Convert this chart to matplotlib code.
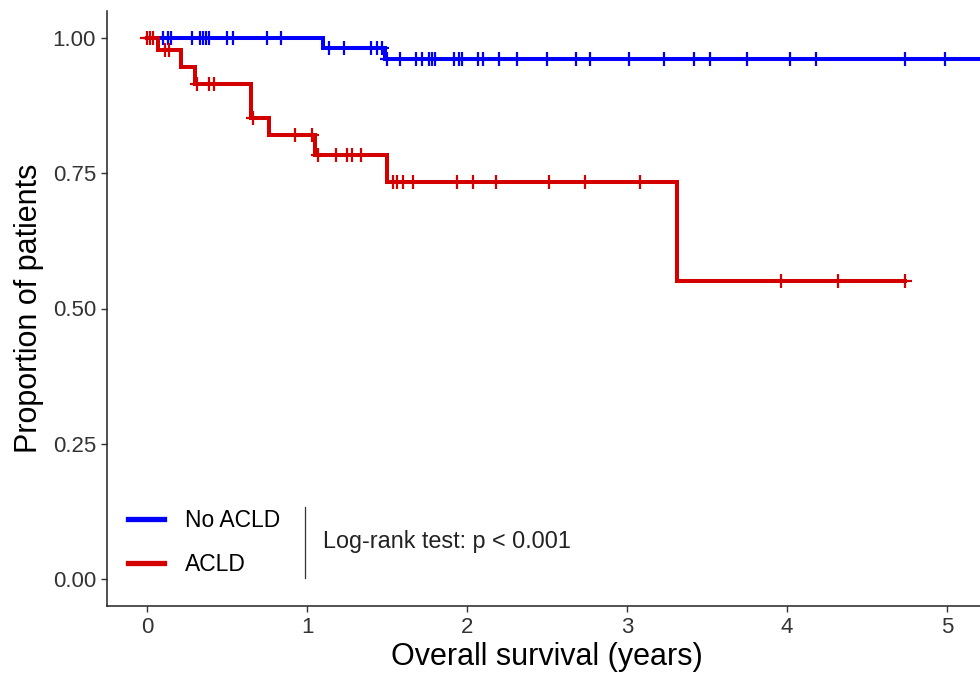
import matplotlib
matplotlib.use('Agg')
import matplotlib.pyplot as plt
from matplotlib.lines import Line2D

plt.rcParams['font.family'] = ['Liberation Sans', 'DejaVu Sans']

# Kaplan-Meier steps (time in years, survival proportion)
no_acld_times = [0.0, 1.10, 1.49, 5.30]
no_acld_surv = [1.0, 0.982, 0.962, 0.962]
no_acld_censor = [0.10, 0.13, 0.15, 0.28, 0.33, 0.35, 0.37, 0.39, 0.50, 0.54,
                  0.75, 0.84, 1.14, 1.23, 1.40, 1.44, 1.47, 1.50, 1.58, 1.68,
                  1.72, 1.76, 1.78, 1.80, 1.92, 1.95, 1.97, 2.07, 2.10, 2.20,
                  2.31, 2.50, 2.68, 2.77, 3.01, 3.23, 3.42, 3.52, 3.75, 4.02,
                  4.18, 4.74, 4.99]

acld_times = [0.0, 0.07, 0.21, 0.30, 0.65, 0.76, 1.05, 1.50, 3.31, 4.74]
acld_surv = [1.0, 0.978, 0.947, 0.915, 0.852, 0.820, 0.784, 0.734, 0.550, 0.550]
acld_censor = [0.0, 0.02, 0.04, 0.11, 0.14, 0.31, 0.39, 0.42, 0.66, 0.925,
               1.03, 1.07, 1.18, 1.25, 1.28, 1.34, 1.54, 1.56, 1.60, 1.66,
               1.94, 2.04, 2.18, 2.51, 2.74, 3.08, 3.96, 4.32, 4.74]

groups = ['No ACLD', 'ACLD']
colors = ['#0000FF', '#D40000']
pvalue_text = 'Log-rank test: p < 0.001'


def surv_at(times, surv, t):
    s = surv[0]
    for ti, si in zip(times, surv):
        if ti <= t:
            s = si
    return s


fig = plt.figure(figsize=(9.8, 6.74), dpi=100)
ax = fig.add_axes([107 / 980, 68 / 674, 880 / 980, 595 / 674])

for times, surv, cens, col in [(no_acld_times, no_acld_surv, no_acld_censor, colors[0]),
                               (acld_times, acld_surv, acld_censor, colors[1])]:
    ax.step(times, surv, where='post', color=col, lw=2.9, solid_joinstyle='miter',
            zorder=3)
    ax.plot(cens, [surv_at(times, surv, c) for c in cens], ls='none', marker='+',
            ms=10, mew=1.6, color=col, zorder=4)

ax.set_xlim(-0.25, 5.25)
ax.set_ylim(-0.05, 1.05)
ax.set_xticks([0, 1, 2, 3, 4, 5])
ax.set_yticks([0, 0.25, 0.5, 0.75, 1.0])
ax.set_yticklabels(['0.00', '0.25', '0.50', '0.75', '1.00'])
ax.tick_params(labelsize=16, colors='#333333', length=4, width=1, labelcolor='#333333',
               pad=4)
ax.set_xlabel('Overall survival (years)', fontsize=22, labelpad=3)
ax.set_ylabel('Proportion of patients', fontsize=22, labelpad=6)
for s in ['top', 'right']:
    ax.spines[s].set_visible(False)
for s in ['left', 'bottom']:
    ax.spines[s].set_linewidth(1.1)
    ax.spines[s].set_color('#222222')

handles = [Line2D([], [], color=c, lw=3.8) for c in colors]
ax.legend(handles, groups, loc='center left', bbox_to_anchor=(0.0, 0.107),
          frameon=False, fontsize=16.5, handlelength=1.6, handletextpad=0.9,
          labelspacing=0.9)

ax.plot([0.99, 0.99], [0.002, 0.133], color='#333333', lw=0.9)
ax.text(1.10, 0.070, pvalue_text, fontsize=16.8, va='center', ha='left', color='#222222')

fig.savefig('out.png', dpi=100)
